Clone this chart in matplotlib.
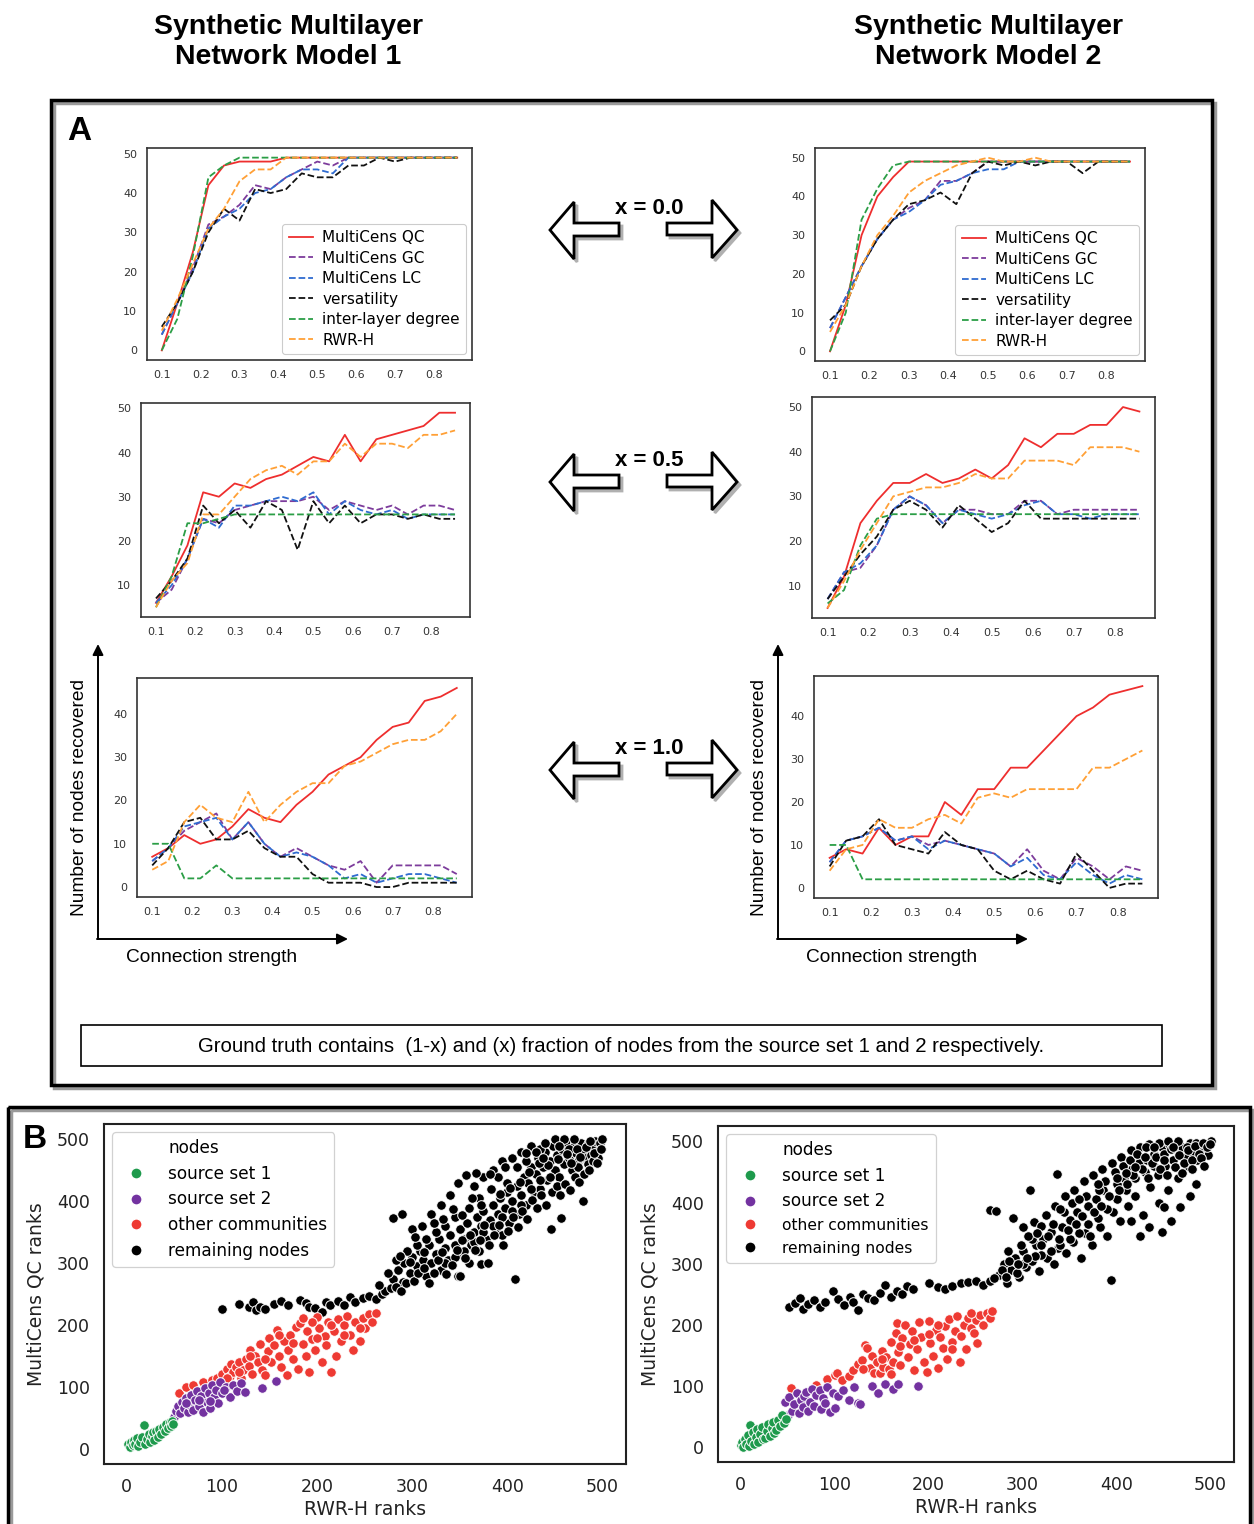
import matplotlib
matplotlib.use("Agg")
import matplotlib.pyplot as plt
from matplotlib.patches import Polygon, Rectangle
from matplotlib.lines import Line2D
from matplotlib.ticker import MultipleLocator

W, H = 1254, 1524

# ---- panel A data: nodes recovered vs connection strength ----
conn = [0.10, 0.14, 0.18, 0.22, 0.26, 0.30, 0.34, 0.38, 0.42, 0.46,
        0.50, 0.54, 0.58, 0.62, 0.66, 0.70, 0.74, 0.78, 0.82, 0.86]
methods = ["MultiCens QC", "MultiCens GC", "MultiCens LC", "versatility", "inter-layer degree", "RWR-H"]

# model 1, x = 0.0
m1_x00_qc   = [0, 12, 25, 42, 47, 48, 48, 48, 49, 49, 49, 49, 49, 49, 49, 49, 49, 49, 49, 49]
m1_x00_gc   = [4, 12, 21, 32, 34, 37, 42, 41, 44, 46, 48, 47, 49, 49, 49, 49, 49, 49, 49, 49]
m1_x00_lc   = [4, 12, 20, 31, 34, 36, 40, 41, 44, 46, 46, 45, 49, 49, 49, 49, 49, 49, 49, 49]
m1_x00_vers = [6, 12, 20, 30, 36, 33, 41, 40, 41, 45, 44, 44, 47, 47, 49, 48, 49, 49, 49, 49]
m1_x00_ild  = [0, 8, 24, 44, 47, 49, 49, 49, 49, 49, 49, 49, 49, 49, 49, 49, 49, 49, 49, 49]
m1_x00_rwr  = [5, 13, 22, 31, 36, 43, 46, 46, 49, 49, 49, 49, 49, 49, 49, 49, 49, 49, 49, 49]
# model 2, x = 0.0
m2_x00_qc   = [0, 12, 30, 40, 45, 49, 49, 49, 49, 49, 49, 49, 49, 49, 49, 49, 49, 49, 49, 49]
m2_x00_gc   = [6, 14, 22, 29, 34, 37, 39, 44, 44, 46, 49, 49, 49, 49, 49, 49, 49, 49, 49, 49]
m2_x00_lc   = [6, 14, 22, 29, 34, 36, 39, 43, 44, 46, 47, 47, 49, 49, 49, 49, 49, 49, 49, 49]
m2_x00_vers = [8, 12, 22, 29, 34, 38, 39, 41, 38, 46, 49, 48, 49, 48, 49, 49, 46, 49, 49, 49]
m2_x00_ild  = [0, 10, 34, 42, 48, 49, 49, 49, 49, 49, 49, 49, 49, 49, 49, 49, 49, 49, 49, 49]
m2_x00_rwr  = [5, 12, 22, 30, 35, 41, 44, 46, 48, 49, 50, 49, 49, 50, 49, 49, 49, 49, 49, 49]
# model 1, x = 0.5
m1_x05_qc   = [6, 12, 19, 31, 30, 33, 32, 34, 35, 37, 39, 38, 44, 38, 43, 44, 45, 46, 49, 49]
m1_x05_gc   = [6, 9, 16, 25, 24, 27, 28, 29, 29, 29, 30, 27, 29, 28, 27, 28, 26, 28, 28, 27]
m1_x05_lc   = [6, 10, 16, 25, 23, 28, 28, 29, 30, 29, 31, 26, 29, 27, 26, 27, 25, 26, 26, 26]
m1_x05_vers = [7, 11, 16, 28, 24, 27, 23, 29, 27, 18, 29, 24, 28, 24, 26, 26, 25, 26, 25, 25]
m1_x05_ild  = [5, 12, 24, 24, 25, 26, 26, 26, 26, 26, 26, 26, 26, 26, 26, 26, 26, 26, 26, 26]
m1_x05_rwr  = [5, 11, 15, 26, 26, 30, 34, 36, 37, 35, 38, 38, 42, 39, 42, 42, 41, 44, 44, 45]
# model 2, x = 0.5
m2_x05_qc   = [5, 12, 24, 29, 33, 33, 35, 33, 34, 36, 34, 37, 43, 41, 44, 44, 46, 46, 50, 49]
m2_x05_gc   = [7, 13, 14, 19, 27, 30, 28, 24, 27, 27, 26, 26, 29, 29, 26, 27, 27, 27, 27, 27]
m2_x05_lc   = [7, 13, 15, 19, 27, 30, 28, 24, 27, 26, 25, 26, 28, 29, 26, 26, 25, 26, 26, 26]
m2_x05_vers = [7, 12, 17, 21, 27, 29, 27, 23, 28, 25, 22, 24, 29, 25, 25, 25, 25, 25, 25, 25]
m2_x05_ild  = [6, 9, 19, 25, 26, 26, 26, 26, 26, 26, 26, 26, 26, 26, 26, 26, 26, 26, 26, 26]
m2_x05_rwr  = [5, 11, 18, 24, 30, 31, 32, 32, 33, 35, 34, 34, 38, 38, 38, 37, 41, 41, 41, 40]
# model 1, x = 1.0
m1_x10_qc   = [7, 9, 12, 10, 11, 14, 18, 16, 15, 19, 22, 26, 28, 30, 34, 37, 38, 43, 44, 46]
m1_x10_gc   = [6, 9, 13, 15, 17, 11, 15, 10, 7, 9, 7, 5, 4, 6, 1, 5, 5, 5, 5, 3]
m1_x10_lc   = [6, 9, 14, 15, 16, 11, 15, 10, 7, 8, 7, 5, 2, 3, 1, 2, 3, 3, 2, 1]
m1_x10_vers = [5, 9, 15, 16, 11, 11, 13, 9, 7, 7, 3, 1, 1, 1, 0, 0, 1, 1, 1, 1]
m1_x10_ild  = [10, 10, 2, 2, 5, 2, 2, 2, 2, 2, 2, 2, 2, 2, 2, 2, 2, 2, 2, 2]
m1_x10_rwr  = [4, 6, 15, 19, 16, 15, 22, 15, 19, 22, 24, 24, 28, 29, 31, 33, 34, 34, 36, 40]
# model 2, x = 1.0
m2_x10_qc   = [7, 9, 8, 14, 10, 12, 12, 20, 17, 23, 23, 28, 28, 32, 36, 40, 42, 45, 46, 47]
m2_x10_gc   = [6, 11, 12, 14, 11, 12, 10, 11, 10, 9, 8, 5, 9, 4, 2, 7, 5, 2, 5, 4]
m2_x10_lc   = [6, 11, 12, 14, 11, 12, 9, 11, 10, 9, 8, 5, 7, 3, 2, 6, 3, 1, 3, 2]
m2_x10_vers = [5, 11, 12, 16, 10, 9, 8, 13, 10, 9, 4, 2, 4, 2, 1, 8, 4, 0, 1, 1]
m2_x10_ild  = [10, 10, 2, 2, 2, 2, 2, 2, 2, 2, 2, 2, 2, 2, 2, 2, 2, 2, 2, 2]
m2_x10_rwr  = [4, 9, 10, 16, 14, 14, 16, 17, 15, 21, 22, 21, 23, 23, 23, 23, 28, 28, 30, 32]

# ---- panel B data: (RWR-H rank, MultiCens QC rank) ----
m1_set1 = [(1, 8), (3, 4), (4, 12), (6, 6), (8, 15), (9, 9), (11, 18), (12, 5), (14, 12), (16, 20),
           (18, 39), (19, 9), (21, 16), (23, 24), (24, 11), (26, 21), (28, 27), (29, 14), (31, 30), (33, 19),
           (34, 33), (36, 25), (38, 36), (40, 29), (41, 40), (43, 34), (45, 44), (46, 38), (48, 46), (49, 41)]
m1_set2 = [(50, 52), (52, 62), (54, 70), (56, 58), (58, 76), (60, 66), (62, 82), (64, 60), (66, 72), (68, 88),
           (70, 64), (72, 80), (74, 94), (76, 70), (78, 86), (80, 60), (82, 98), (84, 76), (86, 90), (88, 66),
           (90, 104), (92, 84), (94, 96), (96, 74), (98, 108), (100, 90), (104, 100), (108, 84), (112, 104),
           (116, 94), (120, 106), (124, 92), (142, 99), (157, 110), (62, 74), (76, 80), (88, 78), (102, 96)]
m1_other = [(55, 91), (62, 100), (70, 104), (80, 108), (85, 98), (90, 112), (95, 115), (100, 110), (100, 122),
            (105, 130), (108, 118), (110, 138), (112, 125), (115, 132), (118, 140), (120, 115), (122, 128),
            (125, 145), (128, 135), (130, 160), (132, 122), (135, 150), (138, 140), (140, 170), (142, 128),
            (145, 120), (148, 158), (150, 180), (152, 140), (155, 168), (158, 192), (160, 150), (162, 132),
            (165, 175), (168, 120), (170, 160), (172, 185), (175, 145), (178, 198), (180, 130), (182, 204),
            (185, 170), (188, 150), (190, 190), (192, 125), (195, 178), (198, 160), (200, 213), (202, 195),
            (205, 140), (208, 182), (210, 168), (212, 205), (215, 125), (218, 190), (220, 150), (222, 210),
            (225, 175), (228, 200), (232, 215), (235, 185), (238, 160), (240, 205), (245, 175), (248, 212),
            (250, 195), (255, 218), (258, 205), (262, 220), (245, 195), (228, 185), (195, 205), (160, 185),
            (185, 212), (215, 200), (200, 180), (175, 172), (145, 145), (130, 150), (118, 125), (105, 115)]
m1_rest = [(100, 227), (118, 234), (128, 229), (133, 238), (136, 224), (140, 230), (145, 226), (155, 234),
           (162, 240), (170, 233), (182, 241), (188, 236), (192, 230), (198, 228), (205, 222), (210, 238),
           (214, 232), (222, 240), (228, 232), (235, 246), (240, 238), (248, 244), (255, 248), (262, 242),
           (268, 250), (272, 256), (278, 260),
           (280, 275), (285, 290), (290, 270), (292, 300), (298, 285), (300, 310), (305, 295), (308, 320),
           (312, 305), (315, 280), (318, 330), (320, 300), (325, 315), (328, 340), (330, 290), (335, 325),
           (338, 305), (340, 345), (345, 330), (348, 280), (350, 355), (352, 315), (355, 340), (358, 365),
           (360, 300), (362, 330), (365, 350), (368, 375), (370, 320), (372, 360), (373, 299), (375, 385),
           (378, 340), (380, 300), (382, 370), (385, 395), (388, 355), (390, 380), (392, 405), (395, 345),
           (398, 390), (400, 415), (402, 365), (405, 400), (408, 275), (410, 425), (412, 380), (415, 410),
           (418, 440), (420, 395), (422, 430), (425, 455), (428, 415), (430, 445), (432, 470), (435, 420),
           (438, 455), (440, 480), (442, 435), (445, 465), (446, 356), (448, 490), (450, 450), (452, 475),
           (455, 440), (457, 374), (458, 485), (460, 460), (462, 495), (465, 470), (468, 450), (470, 490),
           (472, 478), (475, 465), (478, 495), (480, 401), (480, 482), (482, 470), (485, 492), (488, 475),
           (490, 488), (492, 498), (495, 480), (496, 470), (498, 495), (500, 500), (280, 374), (289, 379),
           (357, 443), (350, 280), (320, 380), (340, 410), (300, 355), (310, 360), (330, 395), (365, 425),
           (375, 440), (385, 450), (395, 465), (405, 470), (415, 480), (425, 490), (435, 485), (390, 440),
           (370, 405), (360, 390), (345, 375), (335, 360), (325, 350), (315, 340), (305, 330), (295, 320),
           (283, 305), (275, 285), (265, 265), (400, 430), (410, 455), (420, 465), (430, 480), (440, 495),
           (450, 500), (460, 500), (470, 500), (455, 490), (465, 485), (475, 455), (485, 460), (490, 465),
           (445, 440), (435, 435), (425, 420), (415, 395), (405, 385), (395, 375), (385, 360), (375, 350),
           (365, 335), (355, 320), (345, 310), (335, 300),
           (283, 262), (288, 255), (294, 268), (302, 272), (306, 285), (313, 292), (318, 268), (323, 285),
           (327, 305), (332, 318), (336, 282), (342, 298), (347, 322), (352, 338), (356, 308), (361, 345),
           (366, 322), (371, 338), (376, 362), (381, 330), (386, 345), (391, 362), (396, 330), (401, 352),
           (406, 375), (411, 358), (416, 385), (421, 372), (426, 402), (431, 390), (436, 410), (441, 395),
           (447, 415), (452, 425), (456, 410), (461, 428), (466, 418), (471, 440), (476, 432), (481, 445),
           (486, 450), (491, 478), (494, 462), (499, 485), (463, 476), (467, 462), (473, 485), (477, 472),
           (483, 488), (487, 498), (453, 468), (443, 458), (433, 462), (423, 448), (413, 432), (403, 422),
           (393, 412), (383, 420), (373, 395), (363, 405), (353, 378), (343, 388), (333, 372), (323, 365),
           (313, 318), (303, 342), (298, 302), (287, 312), (348, 430), (367, 446), (382, 445), (398, 455),
           (420, 478), (438, 470)]

m2_set1 = [(1, 3), (2, 9), (3, 1), (5, 14), (6, 6), (8, 20), (9, 2), (10, 36), (11, 11), (13, 25),
           (14, 5), (16, 17), (18, 30), (19, 8), (21, 22), (23, 33), (24, 13), (26, 15), (28, 27), (29, 38),
           (31, 19), (33, 31), (35, 41), (36, 24), (38, 28), (40, 44), (42, 35), (44, 52), (46, 40), (48, 47)]
m2_set2 = [(47, 74), (50, 52), (52, 82), (55, 60), (57, 70), (60, 88), (62, 56), (64, 78), (66, 66), (68, 84),
           (70, 90), (72, 60), (74, 74), (76, 96), (78, 68), (80, 86), (84, 94), (86, 62), (88, 80), (90, 72),
           (92, 98), (95, 57), (98, 88), (100, 64), (104, 84), (109, 93), (115, 78), (121, 98), (125, 72),
           (127, 70), (140, 100), (146, 89), (154, 103), (162, 96), (168, 104), (189, 100)]
m2_other = [(54, 97), (80, 102), (92, 112), (100, 118), (103, 121), (108, 110), (115, 116), (120, 126),
            (125, 136), (129, 143), (132, 167), (135, 162), (138, 130), (140, 150), (142, 122), (145, 140),
            (148, 121), (150, 158), (152, 132), (155, 148), (158, 128), (160, 172), (162, 140), (165, 186),
            (166, 203), (168, 155), (170, 134), (172, 178), (175, 200), (178, 148), (180, 168), (182, 190),
            (185, 126), (188, 160), (190, 205), (192, 180), (195, 140), (198, 123), (200, 206), (202, 170),
            (205, 150), (208, 192), (210, 130), (212, 180), (215, 162), (218, 198), (220, 145), (222, 210),
            (225, 172), (228, 190), (230, 215), (233, 140), (235, 182), (238, 200), (240, 160), (242, 212),
            (245, 195), (248, 186), (250, 208), (252, 170), (255, 216), (258, 200), (262, 220), (265, 212),
            (268, 222), (185, 175), (170, 165), (150, 145), (210, 200), (225, 160), (245, 220), (200, 185),
            (160, 120), (130, 128)]
m2_rest = [(52, 230), (58, 236), (63, 244), (66, 226), (72, 234), (78, 240), (84, 230), (90, 238), (98, 256),
           (104, 242), (110, 232), (116, 246), (120, 238), (125, 225), (130, 250), (136, 244), (142, 240),
           (148, 252), (154, 266), (160, 246), (166, 256), (172, 250), (177, 264), (184, 258), (201, 268),
           (210, 262), (218, 258), (225, 263), (235, 268), (242, 270), (251, 271), (258, 266), (265, 272),
           (275, 282), (280, 300), (284, 268), (288, 290), (292, 310), (296, 278), (300, 320), (304, 295),
           (308, 421), (310, 305), (314, 330), (318, 288), (322, 340), (326, 310), (330, 352), (334, 300),
           (337, 447), (338, 325), (342, 360), (346, 318), (350, 372), (354, 335), (358, 385), (362, 310),
           (366, 350), (370, 395), (374, 330), (378, 405), (382, 360), (386, 420), (390, 345), (394, 274),
           (396, 385), (400, 430), (404, 370), (408, 440), (412, 395), (416, 455), (420, 410), (424, 465),
           (428, 380), (432, 470), (436, 425), (440, 480), (444, 445), (448, 490), (452, 460), (456, 495),
           (460, 470), (464, 485), (468, 392), (470, 490), (474, 475), (478, 498), (482, 480), (486, 470),
           (490, 492), (494, 485), (497, 478), (500, 500), (265, 387), (272, 386), (290, 375), (300, 360),
           (312, 368), (325, 380), (335, 395), (345, 410), (355, 420), (365, 435), (375, 445), (385, 455),
           (395, 465), (405, 475), (415, 485), (425, 490), (435, 495), (445, 498), (455, 500), (465, 500),
           (475, 490), (485, 498), (440, 460), (430, 450), (420, 440), (410, 420), (400, 405), (390, 390),
           (380, 375), (370, 365), (360, 350), (350, 340), (340, 330), (330, 320), (320, 315), (310, 340),
           (300, 300), (285, 320), (415, 370), (425, 345), (435, 360), (445, 400), (455, 420), (465, 440),
           (475, 460), (485, 430), (448, 352), (458, 370), (478, 410),
           (270, 276), (278, 290), (286, 305), (294, 285), (298, 330), (306, 345), (313, 312), (320, 330),
           (327, 345), (332, 365), (339, 340), (344, 385), (348, 355), (353, 400), (357, 365), (363, 378),
           (368, 410), (372, 345), (376, 385), (381, 420), (384, 395), (388, 435), (392, 410), (398, 450),
           (403, 420), (407, 460), (411, 430), (414, 470), (418, 445), (422, 480), (427, 455), (431, 490),
           (434, 440), (438, 465), (442, 475), (446, 455), (450, 480), (454, 445), (458, 488), (462, 458),
           (466, 478), (472, 465), (476, 486), (480, 470), (484, 492), (488, 480), (492, 498), (496, 490),
           (499, 495), (460, 490), (450, 470), (440, 490), (430, 475), (420, 458), (410, 448), (400, 440),
           (380, 430), (360, 405), (340, 390), (320, 362), (315, 350), (305, 310), (295, 300), (282, 278),
           (450, 392), (470, 448), (480, 455), (490, 472), (493, 460)]

group_labels = ["source set 1", "source set 2", "other communities", "remaining nodes"]

line_colors = {"MultiCens QC": "#ee2e2e", "MultiCens GC": "#7d3c9c", "MultiCens LC": "#2f6bd0",
               "versatility": "#111111", "inter-layer degree": "#2b9e46", "RWR-H": "#ffa036"}
dot_colors = ["#1e9a4c", "#7332a0", "#ee3a33", "#000000"]

fig = plt.figure(figsize=(W / 100, H / 100), dpi=100)


def px_axes(l, t, r, b):
    return fig.add_axes([l / W, 1 - b / H, (r - l) / W, (b - t) / H])


# overlay in pixel coordinates for frames, arrows and free text
ov = fig.add_axes([0, 0, 1, 1])
ov.set_xlim(0, W)
ov.set_ylim(H, 0)
ov.axis("off")

sans = "Liberation Sans"
ov.text(288, 42, "Synthetic Multilayer\nNetwork Model 1", ha="center", va="center",
        fontsize=20.5, fontweight="bold", family=sans, linespacing=1.15)
ov.text(988, 42, "Synthetic Multilayer\nNetwork Model 2", ha="center", va="center",
        fontsize=20.5, fontweight="bold", family=sans, linespacing=1.15)

# panel frames
ov.add_patch(Rectangle((54, 103), 1161, 985, fill=False, lw=2.5, ec="#9a9a9a"))
ov.add_patch(Rectangle((51, 100), 1161, 985, fill=False, lw=2.5, ec="black"))
ov.add_patch(Rectangle((11, 1110), 1242, 460, fill=False, lw=2.5, ec="#9a9a9a"))
ov.add_patch(Rectangle((8, 1107), 1242, 460, fill=False, lw=2.5, ec="black"))
ov.text(79, 132, "A", ha="center", va="center", fontsize=24, fontweight="bold", family=sans)
ov.text(35, 1139, "B", ha="center", va="center", fontsize=24, fontweight="bold", family=sans)


def double_arrow(cy, label):
    left = [(550, cy), (574, cy - 28), (574, cy - 7), (619, cy - 7), (619, cy + 6), (574, cy + 6), (574, cy + 29)]
    right = [(737, cy), (712, cy - 30), (712, cy - 7), (667, cy - 7), (667, cy + 5), (712, cy + 5), (712, cy + 28)]
    for pts in (left, right):
        shadow = [(x + 3, y + 3) for x, y in pts]
        ov.add_patch(Polygon(shadow, closed=True, fc="#b0b0b0", ec="#b0b0b0", lw=2))
        ov.add_patch(Polygon(pts, closed=True, fc="white", ec="black", lw=2, joinstyle="miter"))
    ov.text(649, cy - 22, label, ha="center", va="center", fontsize=16, fontweight="bold", family=sans)


double_arrow(230, "x = 0.0")
double_arrow(482, "x = 0.5")
double_arrow(770, "x = 1.0")

# axis arrows and labels
for x0, x1 in ((98, 348), (778, 1028)):
    ov.annotate("", xy=(x0, 644), xytext=(x0, 939),
                arrowprops=dict(arrowstyle="-|>", lw=1.4, color="black", mutation_scale=16, shrinkA=0, shrinkB=0))
    ov.annotate("", xy=(x1, 939), xytext=(x0 - 1, 939),
                arrowprops=dict(arrowstyle="-|>", lw=1.4, color="black", mutation_scale=16, shrinkA=0, shrinkB=0))
    ov.text(x0 - 18, 797, "Number of nodes recovered", rotation=90, ha="center", va="center",
            fontsize=13.8, family=sans)
    ov.text(x0 + 114, 958, "Connection strength", ha="center", va="center", fontsize=13.8, family=sans)

ov.add_patch(Rectangle((81, 1025), 1081, 41, fill=False, lw=1.2, ec="black"))
ov.text(621, 1046, "Ground truth contains  (1-x) and (x) fraction of nodes from the source set 1 and 2 respectively.",
        ha="center", va="center", fontsize=14.7, family=sans)


def line_panel(box, series, legend=False):
    ax = px_axes(*box)
    for name, vals in zip(methods, series):
        ax.plot(conn, vals, color=line_colors[name], lw=1.3,
                ls="-" if name == "MultiCens QC" else "--", label=name)
    ax.set_xticks([0.1, 0.2, 0.3, 0.4, 0.5, 0.6, 0.7, 0.8])
    ax.xaxis.set_major_formatter(plt.FuncFormatter(lambda v, p: f"{v:.1f}"))
    ax.yaxis.set_major_locator(MultipleLocator(10))
    ax.tick_params(length=0, pad=7, labelsize=8, labelcolor="#333333")
    for s in ax.spines.values():
        s.set_color("#333333")
        s.set_linewidth(1.2)
    if legend:
        leg = ax.legend(loc="lower right", fontsize=11, handlelength=1.6, handletextpad=0.6,
                        borderaxespad=0.4, labelspacing=0.36, fancybox=True, edgecolor="#cccccc",
                        framealpha=1.0)
        leg.get_frame().set_linewidth(0.8)
    return ax


line_panel((147, 148, 472, 360), [m1_x00_qc, m1_x00_gc, m1_x00_lc, m1_x00_vers, m1_x00_ild, m1_x00_rwr], legend=True)
line_panel((815, 148, 1145, 361), [m2_x00_qc, m2_x00_gc, m2_x00_lc, m2_x00_vers, m2_x00_ild, m2_x00_rwr], legend=True)
line_panel((141, 403, 470, 617), [m1_x05_qc, m1_x05_gc, m1_x05_lc, m1_x05_vers, m1_x05_ild, m1_x05_rwr])
line_panel((812, 397, 1155, 618), [m2_x05_qc, m2_x05_gc, m2_x05_lc, m2_x05_vers, m2_x05_ild, m2_x05_rwr])
line_panel((137, 678, 472, 897), [m1_x10_qc, m1_x10_gc, m1_x10_lc, m1_x10_vers, m1_x10_ild, m1_x10_rwr])
line_panel((814, 676, 1158, 898), [m2_x10_qc, m2_x10_gc, m2_x10_lc, m2_x10_vers, m2_x10_ild, m2_x10_rwr])


def scatter_panel(box, groups, small_last=False):
    ax = px_axes(*box)
    order = [3, 2, 1, 0]
    for i in order:
        xs = [p[0] for p in groups[i]]
        ys = [p[1] for p in groups[i]]
        ax.scatter(xs, ys, s=48, c=dot_colors[i], edgecolors="white", linewidths=0.7, zorder=3)
    ax.set_xlim(-24, 525)
    ax.set_ylim(-24, 525)
    ax.set_xticks([0, 100, 200, 300, 400, 500])
    ax.set_yticks([0, 100, 200, 300, 400, 500])
    ax.tick_params(length=0, pad=10, labelsize=12.5, labelcolor="#222222")
    ax.set_xlabel("RWR-H ranks", fontsize=13.5, labelpad=3, color="#222222")
    ax.set_ylabel("MultiCens QC ranks", fontsize=13.5, labelpad=8, color="#222222")
    for s in ax.spines.values():
        s.set_color("#222222")
        s.set_linewidth(1.5)
    handles = [Line2D([], [], ls="none", label="nodes")]
    for c, lab in zip(dot_colors, group_labels):
        handles.append(Line2D([], [], ls="none", marker="o", ms=8, mfc=c, mec="white", label=lab))
    leg = ax.legend(handles=handles, loc="upper left", fontsize=12.2, borderaxespad=0.5,
                    labelspacing=0.45, handletextpad=0.9, fancybox=True, edgecolor="#cccccc", framealpha=0.9)
    leg.get_frame().set_linewidth(0.9)
    if small_last:
        for t in leg.get_texts()[3:]:
            t.set_fontsize(11.2)
    return ax


scatter_panel((104, 1124, 626, 1464), [m1_set1, m1_set2, m1_other, m1_rest])
scatter_panel((718, 1126, 1234, 1462), [m2_set1, m2_set2, m2_other, m2_rest], small_last=True)

fig.savefig("out.png", dpi=100)
